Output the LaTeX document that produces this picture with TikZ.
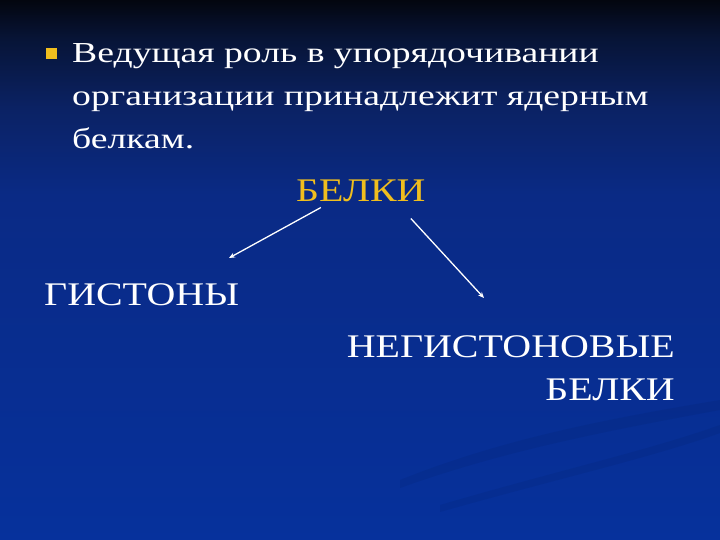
\documentclass[tikz,border=0pt]{standalone}
\usepackage{fontspec}
\setmainfont[FakeStretch=1.3]{Liberation Serif}
\newfontfamily\capfont[FakeStretch=1.21]{Liberation Serif}
\usetikzlibrary{arrows.meta}
\definecolor{gold}{HTML}{F0BE1E}
\definecolor{bgA}{HTML}{03060F}
\definecolor{bgA2}{HTML}{071436}
\definecolor{bgB}{HTML}{0B2264}
\definecolor{bgC}{HTML}{0A2A85}
\definecolor{bgD}{HTML}{06319C}
\pgfdeclareverticalshading{slidebg}{100bp}{color(0bp)=(bgD); color(25bp)=(bgD); color(57bp)=(bgC); color(65bp)=(bgB); color(71.5bp)=(bgA2); color(75bp)=(bgA); color(100bp)=(bgA)}
\tikzset{
  bodytext/.style={text=white, inner sep=0pt, font=\fontsize{29}{43}\selectfont},
  captext/.style={text=white, inner sep=0pt, font=\capfont\fontsize{33}{43}\selectfont},
  link/.style={draw=white, line width=1.3pt, -{Stealth[length=6pt,width=5pt]}}
}
\begin{document}
\begin{tikzpicture}[x=1pt,y=-1pt]
\useasboundingbox (0,0) rectangle (720,540);
\begin{scope}[yscale=-1]
\shade[shading=slidebg] (0,-540) rectangle (720,0);
\end{scope}
% faint streaks
\fill[black, opacity=0.05] (400,480) .. controls (500,440) and (600,420) .. (720,400) -- (720,410) .. controls (600,432) and (500,452) .. (400,488) -- cycle;
\fill[black, opacity=0.05] (440,505) .. controls (560,470) and (650,450) .. (720,425) -- (720,433) .. controls (650,458) and (560,478) .. (440,512) -- cycle;
% bullet
\fill[gold] (46,48) rectangle (57,59);
\node[bodytext, anchor=base west, align=left] (intro) at (72,149)
  {Ведущая роль в упорядочивании\\организации принадлежит ядерным\\белкам.};
\node[captext, text=gold, anchor=base west] (belki) at (296,202) {БЕЛКИ};
\node[captext, anchor=base west] (gist) at (44,305) {ГИСТОНЫ};
\node[captext, anchor=base east, align=right] (negist) at (675,400) {НЕГИСТОНОВЫЕ\\БЕЛКИ};
\coordinate (gistend) at (229,258);
\coordinate (negend) at (484,298);
\draw[link] ([xshift=-40pt,yshift=-5pt]belki.south) -- (gistend);
\draw[link] ([xshift=50pt,yshift=-16pt]belki.south) -- (negend);
\end{tikzpicture}
\end{document}
